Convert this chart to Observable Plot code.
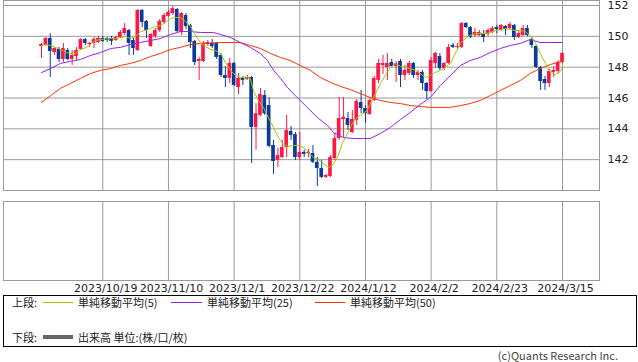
<!DOCTYPE html>
<html><head><meta charset="utf-8">
<script src="https://cdn.jsdelivr.net/npm/d3@7"></script>
<script src="https://cdn.jsdelivr.net/npm/@observablehq/plot@0.6"></script>
<style>
body{margin:0;background:#fff;}
#wrap{position:relative;width:638px;height:362px;overflow:hidden;background:#fff;}
#wrap svg{position:absolute;left:0;}
#legend{position:absolute;left:3px;top:295px;width:634px;height:52px;box-sizing:border-box;border:1px solid #000;background:#fff;font-family:"Noto Sans CJK JP",sans-serif;font-size:11px;color:#222;}
#legend .t{position:absolute;line-height:14px;white-space:nowrap;}
#legend .ln{position:absolute;height:1px;}
#copy{position:absolute;right:20px;top:349px;line-height:12px;font-family:"Noto Sans CJK JP",sans-serif;font-size:11px;color:#444;white-space:nowrap;}
</style></head>
<body><div id="wrap"></div>
<script>
// daily candles (index 0..119)
const open = [149.34,149.41,149.86,148.95,149.15,148.50,149.08,148.50,148.69,149.15,
149.79,149.47,149.54,149.60,149.86,149.86,149.86,149.73,149.92,150.18,
150.38,149.73,149.08,151.68,150.96,149.34,149.99,150.38,150.90,151.29,
151.48,151.74,150.25,151.35,150.70,149.67,148.37,148.37,149.47,149.54,
149.54,148.76,147.46,147.27,148.24,146.68,147.27,147.20,147.33,144.09,
144.87,146.16,145.51,142.92,141.95,142.14,142.79,143.83,143.63,142.14,
142.47,142.40,142.40,141.83,141.43,140.85,140.91,142.08,143.37,144.61,
144.67,143.76,144.54,145.71,145.32,144.93,145.84,147.14,148.11,147.98,
148.30,148.04,148.37,147.46,147.59,148.24,147.46,147.66,146.94,146.42,
148.24,148.69,147.91,148.24,149.41,149.28,149.28,150.83,150.57,150.05,
150.05,150.18,150.12,150.25,150.57,150.38,150.64,150.51,150.70,149.92,
150.05,150.51,149.79,149.34,147.98,147.20,146.94,147.66,147.72,148.30];
const close = [149.47,149.86,149.02,149.21,148.50,149.21,148.50,148.76,149.08,149.79,
149.54,149.54,149.79,149.86,149.67,149.73,149.67,149.92,150.25,150.51,
149.54,149.21,151.68,150.90,150.38,150.12,150.38,150.96,151.35,151.55,
151.80,150.31,151.48,150.64,149.60,148.30,148.50,149.54,149.60,149.34,
148.63,147.46,147.27,148.24,146.81,147.27,147.14,147.33,144.09,144.98,
146.23,144.98,142.86,141.88,142.27,142.79,143.89,143.57,142.14,142.47,
142.34,142.47,141.83,141.43,140.85,140.98,142.14,143.37,144.67,144.74,
144.22,144.61,145.77,145.32,144.98,145.84,147.27,148.24,148.24,148.24,
148.04,148.24,147.46,147.79,148.24,147.46,147.66,146.94,146.42,148.43,
148.89,147.91,148.24,149.28,149.28,149.34,150.83,150.57,149.92,150.25,
150.25,149.92,150.38,150.51,150.44,150.70,150.44,150.77,149.92,150.18,
150.51,150.05,149.41,147.98,147.07,146.94,147.72,147.79,148.30,148.89];
const high = [149.54,149.92,150.18,149.28,149.28,149.54,149.21,149.08,149.28,149.86,
149.86,149.60,149.92,149.99,149.99,149.92,149.99,149.99,150.38,150.83,
150.44,149.86,151.74,151.74,151.03,150.18,150.51,151.09,151.48,151.68,
151.94,151.80,151.55,151.48,150.77,149.73,148.63,149.67,149.73,149.79,
149.60,148.89,148.04,148.56,148.30,147.59,147.40,147.46,147.40,145.64,
146.62,146.49,146.03,143.25,142.73,143.25,144.87,144.15,143.76,143.76,
142.60,142.66,142.92,142.14,141.95,141.04,142.27,143.70,146.03,146.03,
145.06,145.19,145.90,146.49,145.51,145.97,147.40,148.50,148.76,148.89,
148.50,148.37,148.50,148.11,148.37,148.30,147.79,147.79,147.01,148.63,
148.95,148.89,148.30,149.47,149.54,149.54,150.90,150.90,150.64,150.51,
150.38,150.38,150.51,150.64,150.70,150.77,150.70,150.90,150.77,150.38,
150.70,150.70,149.92,149.41,148.04,147.40,147.85,148.04,148.43,148.95];
const low = [148.56,149.34,147.33,148.76,148.30,148.30,148.43,148.11,148.43,149.08,
149.41,149.28,149.21,149.54,149.60,149.60,149.41,149.67,149.86,150.05,
148.76,148.76,149.02,150.57,149.86,149.28,149.86,150.25,150.77,151.22,
151.35,150.25,150.05,150.44,149.21,148.11,147.14,148.30,149.34,149.21,
148.50,147.33,146.68,146.94,146.75,146.23,146.81,147.14,141.75,142.60,
144.80,144.87,142.79,141.04,141.49,142.08,142.14,143.25,141.95,141.95,
142.14,142.14,141.75,140.26,140.78,140.78,140.85,141.95,143.25,143.44,
143.89,143.70,144.22,144.98,144.35,144.87,145.77,146.94,147.53,147.14,
147.98,147.01,146.68,147.14,147.46,147.27,147.14,146.49,145.90,146.36,
147.91,147.79,147.79,148.17,149.21,149.15,149.21,150.51,149.86,149.92,
149.99,149.60,149.99,150.18,150.18,150.31,150.05,150.44,149.73,149.86,
149.99,149.99,149.21,147.91,146.49,146.49,146.68,147.33,147.59,148.24];

// moving averages (day index, value)
const ma5Idx = [0,0.9,2,3.2,4.3,5.7,6.6,7.8,8.9,10.3,11.2,12.3,13.5,15.8,16.9,18,19.2,20.3,21.5,22.6,23.7,24.9,26,27.2,28.3,29.5,30.6,31.7,32.9,34,35.2,36.3,37.4,38.6,39.7,40.9,42,43.2,44.3,45.4,46.6,47.7,48.4,49.5,50.7,51.8,53,54.1,55.3,56.4,57.5,58.7,59.8,61,62.1,63.2,64.4,65.5,66.4,67.6,68.7,69.9,71,72.1,73.3,74.4,75.1,76.3,77.4,78.5,79.7,80.8,82,83.1,84.2,85.4,86.5,87.7,88.8,90,91.1,92.2,93.4,94.5,95.7,96.8,97.9,99.1,100.2,101.4,102.5,103.7,104.8,105.9,107.1,108.2,109.4,110.5,111.6,112.8,113.9,115.1,116.2,117.4,118.3,119];
const ma5Val = [149.41,149.47,149.41,149.28,149.15,148.95,148.89,148.89,149.15,149.28,149.47,149.73,149.79,149.86,149.86,149.92,149.99,149.86,149.99,150.31,150.38,150.51,150.64,150.70,150.90,151.16,151.22,151.22,150.96,150.64,150.05,149.60,149.34,149.15,149.08,148.89,148.30,147.79,147.46,147.33,147.33,147.27,146.49,145.84,145.39,144.74,144.09,143.44,142.99,142.86,142.92,142.92,142.79,142.47,142.14,142.01,141.75,141.49,141.62,142.14,143.05,143.70,144.35,144.74,144.98,145.19,145.64,146.29,146.94,147.46,147.98,148.24,148.04,147.98,147.91,147.79,147.59,147.33,147.46,147.66,147.79,147.98,148.24,148.89,149.54,149.86,150.05,150.18,150.18,150.18,150.25,150.38,150.44,150.51,150.44,150.38,150.38,150.31,150.05,149.60,148.89,148.24,147.66,147.53,147.66,147.98];
const ma25Idx = [0,2.1,4.3,6.6,8.9,11.2,13.5,15.8,18,20.3,22.6,24.9,27.2,29.5,31.7,34,36.3,39.3,40.9,43.2,45.4,47.7,50,51.6,53,54.6,56.2,58.4,60.7,63,65.3,66.7,68.9,71.2,73.5,75.1,77.4,79.7,82,84.2,86.5,88.8,91.1,93.4,95.7,97.9,100.2,102.5,104.8,107.1,109.4,111.6,113.9,116.2,119];
const ma25Val = [147.65,147.91,148.24,148.37,148.50,148.76,148.95,149.21,149.28,149.47,149.60,149.73,149.86,150.12,150.31,150.31,150.25,150.25,150.12,149.92,149.60,149.28,148.89,148.43,147.79,147.27,146.68,146.03,145.39,144.74,144.22,143.76,143.44,143.37,143.37,143.37,143.70,144.09,144.61,145.06,145.58,146.03,146.81,147.46,148.11,148.43,148.63,148.95,149.21,149.41,149.54,149.79,149.60,149.60,149.60];
const ma50Idx = [0,2.1,4.3,6.6,8.9,11.2,13.5,15.8,18,20.3,22.6,24.9,27.2,29.5,31.7,34,36.3,40.9,45.4,47.7,50,52.3,54.6,56.8,59.1,61.4,63.7,66,68.3,70.5,72.8,75.1,77.4,79.7,82,84.2,86.5,88.8,91.1,93.4,95.7,97.9,100.2,102.5,104.8,107.1,109.4,111.6,113.9,116.2,117.8,119];
const ma50Val = [145.71,146.16,146.62,146.94,147.27,147.59,147.79,147.91,148.11,148.24,148.43,148.69,148.89,149.15,149.28,149.47,149.54,149.60,149.60,149.41,149.21,148.89,148.63,148.43,148.11,147.79,147.33,147.01,146.75,146.55,146.29,146.03,145.84,145.71,145.64,145.51,145.45,145.39,145.39,145.39,145.51,145.64,145.84,146.16,146.49,146.81,147.14,147.59,147.91,148.17,148.30,148.37];

const tickIdx = [14,29,44,59,74,89,104,119];
const tickLabels = ["2023/10/19","2023/11/10","2023/12/1","2023/12/22","2024/1/12","2024/2/2","2024/2/23","2024/3/15"];
const yTicks = [142,144,146,148,150,152];
const legendUpper = ["単純移動平均(5)","単純移動平均(25)","単純移動平均(50)"];
const legendLower = "出来高 単位:(株/口/枚)";

const RED = "#ff1744", BLUE = "#0a3a9c", GRID = "#9a9a9a";
const C5 = "#99cc00", C25 = "#9a1ff0", C50 = "#ff3300";

const candles = open.map((o, i) => ({i, open: o, close: close[i], high: high[i], low: low[i]}));
const ups = candles.filter(d => d.close >= d.open);
const downs = candles.filter(d => d.close < d.open);
const ma = (idx, val) => idx.map((i, k) => ({i, v: val[k]}));

const xs = {type: "linear", domain: [0, 119], range: [41, 562]};
const fontStyle = {fontFamily: "DejaVu Sans, sans-serif", fontSize: "11px", color: "#222", background: "transparent"};

const upper = Plot.plot({
  width: 638, height: 196, marginLeft: 3, marginRight: 39, marginTop: 0, marginBottom: 6,
  style: fontStyle,
  x: {...xs, axis: null},
  y: {domain: [140, 152], range: [190, 5], axis: null},
  marks: [
    Plot.ruleY(yTicks, {stroke: GRID}),
    Plot.ruleX(tickIdx, {stroke: GRID}),
    Plot.frame({stroke: GRID}),
    Plot.ruleX(ups, {x: "i", y1: "low", y2: "high", stroke: RED}),
    Plot.ruleX(downs, {x: "i", y1: "low", y2: "high", stroke: BLUE}),
    Plot.rect(ups, {x1: d => d.i - 0.42, x2: d => d.i + 0.42, y1: "open", y2: "close", fill: RED}),
    Plot.rect(downs, {x1: d => d.i - 0.42, x2: d => d.i + 0.42, y1: "open", y2: "close", fill: BLUE}),
    Plot.line(ma(ma50Idx, ma50Val), {x: "i", y: "v", stroke: C50, strokeWidth: 1}),
    Plot.line(ma(ma25Idx, ma25Val), {x: "i", y: "v", stroke: C25, strokeWidth: 1}),
    Plot.line(ma(ma5Idx, ma5Val), {x: "i", y: "v", stroke: C5, strokeWidth: 1}),
    Plot.axisY(yTicks, {anchor: "right", tickSize: 0, tickPadding: 8, label: null})
  ]
});
upper.style.top = "0px";

const lower = Plot.plot({
  width: 638, height: 98, marginLeft: 3, marginRight: 39, marginTop: 5, marginBottom: 14,
  style: fontStyle,
  x: {...xs},
  y: {domain: [0, 1], axis: null},
  marks: [
    Plot.ruleX(tickIdx, {stroke: GRID}),
    Plot.frame({stroke: GRID}),
    Plot.axisX(tickIdx, {tickSize: 0, tickPadding: 4, dx: 3, label: null,
      tickFormat: d => tickLabels[tickIdx.indexOf(d)]})
  ]
});
lower.style.top = "196px";

const wrap = document.getElementById("wrap");
wrap.appendChild(upper);
wrap.appendChild(lower);

const lg = document.createElement("div");
lg.id = "legend";
const items = [
  {cls: "t", left: 8, top: -1, text: "上段:"},
  {cls: "ln", left: 39, top: 5.5, width: 30, color: C5},
  {cls: "t", left: 74, top: -1, text: legendUpper[0]},
  {cls: "ln", left: 167, top: 5.5, width: 31, color: C25},
  {cls: "t", left: 203, top: -1, text: legendUpper[1]},
  {cls: "ln", left: 311, top: 5.5, width: 30, color: C50},
  {cls: "t", left: 346, top: -1, text: legendUpper[2]},
  {cls: "t", left: 8, top: 33.5, text: "下段:"},
  {cls: "ln", left: 39, top: 38.5, width: 30, color: "#666", h: 4},
  {cls: "t", left: 74, top: 33.5, text: legendLower}
];
for (const it of items) {
  const s = document.createElement("span");
  s.className = it.cls;
  s.style.left = it.left + "px";
  s.style.top = it.top + "px";
  if (it.text) s.textContent = it.text;
  if (it.cls === "ln") { s.style.width = it.width + "px"; s.style.background = it.color; s.style.height = (it.h || 1) + "px"; }
  lg.appendChild(s);
}
wrap.appendChild(lg);

const cp = document.createElement("div");
cp.id = "copy";
cp.textContent = "(c)Quants Research Inc.";
wrap.appendChild(cp);
</script></body></html>
